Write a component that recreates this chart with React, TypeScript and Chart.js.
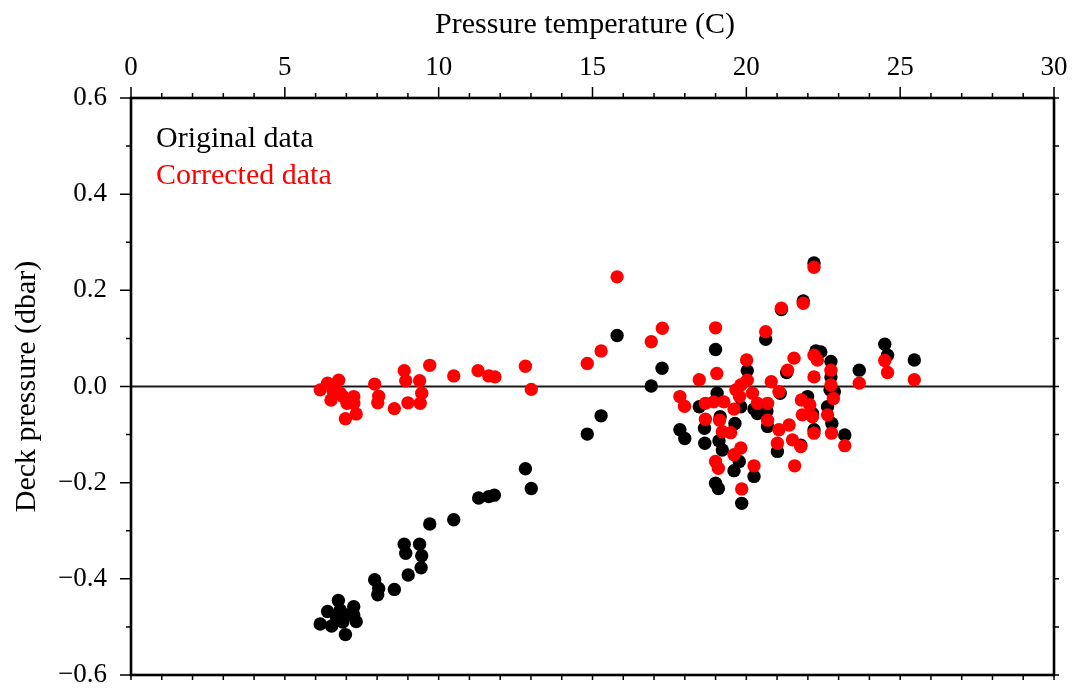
import React, { useEffect, useRef } from "react";
import { Chart, registerables } from "chart.js";

Chart.register(...registerables);

// Original data (black)
const originalX = [
  6.15, 6.39, 6.52, 6.69, 6.74, 6.8, 6.97, 7.02, 7.24, 7.24, 7.32, 6.88,
  7.92, 8.05, 8.02, 8.56, 8.88, 8.93, 9.01, 9.38, 9.45, 9.43, 9.71, 10.49,
  11.3, 11.63, 11.81, 12.82, 13.01, 14.83, 15.28, 15.8, 16.91, 17.26,
  17.84, 18.0, 18.47, 18.64, 18.65, 19.0, 19.0, 19.05, 19.09, 19.11, 19.15, 19.22,
  19.6, 19.63, 19.77, 19.82, 19.85, 20.03, 20.25, 20.25, 20.36, 20.63, 20.67, 20.69,
  21.01, 21.1, 21.14, 21.31, 21.77, 21.85, 21.99, 22.15, 22.2, 22.2, 22.26, 22.42,
  22.64, 22.72, 22.75, 22.75, 22.78, 22.86, 23.2, 23.67, 24.5, 24.59, 25.46,
];
const originalY = [
  -0.494, -0.468, -0.498, -0.482, -0.445, -0.465, -0.516, -0.475, -0.458, -0.475, -0.489, -0.49,
  -0.402, -0.42, -0.433, -0.422, -0.328, -0.347, -0.392, -0.328, -0.352, -0.377, -0.286, -0.277,
  -0.232, -0.229, -0.226, -0.171, -0.212, -0.099, -0.061, 0.106, 0.001, 0.038,
  -0.09, -0.108, -0.042, -0.087, -0.118, 0.077, -0.201, -0.014, -0.212, -0.113, -0.063, -0.132,
  -0.175, -0.077, -0.156, -0.042, -0.243, 0.033, -0.047, -0.187, -0.056, 0.098, -0.051, -0.083,
  -0.135, -0.014, 0.16, 0.029, -0.122, 0.178, -0.021, -0.056, 0.257, -0.09, 0.074, 0.072,
  -0.042, -0.007, 0.052, 0.02, -0.077, -0.011, -0.101, 0.034, 0.088, 0.065, 0.055,
];

// Corrected data (red)
const correctedX = [
  6.15, 6.39, 6.5, 6.58, 6.75, 6.8, 6.89, 6.97, 7.02, 7.24, 7.24, 7.32,
  7.92, 8.05, 8.02, 8.56, 8.88, 8.93, 9.0, 9.38, 9.45, 9.4, 9.71, 10.49,
  11.28, 11.63, 11.83, 12.82, 13.01, 14.83, 15.28, 15.8, 16.91, 17.27,
  17.84, 17.99, 18.47, 18.67, 18.67, 18.94, 19.0, 19.0, 19.04, 19.09, 19.13, 19.22,
  19.27, 19.49, 19.6, 19.6, 19.66, 19.78, 19.82, 19.82, 19.85, 20.01, 20.03, 20.2,
  20.25, 20.36, 20.63, 20.69, 20.69, 20.81, 21.01, 21.06, 21.06, 21.14, 21.34, 21.39,
  21.5, 21.55, 21.57, 21.77, 21.79, 21.82, 21.85, 22.06, 22.15, 22.2, 22.2, 22.2,
  22.2, 22.31, 22.64, 22.75, 22.75, 22.77, 22.83, 23.2, 23.67, 24.5, 24.59, 25.46,
];
const correctedY = [
  -0.007, 0.007, -0.028, -0.011, 0.013, -0.014, -0.021, -0.067, -0.035, -0.021, -0.035, -0.057,
  0.005, -0.02, -0.034, -0.046, 0.033, 0.012, -0.034, 0.012, -0.014, -0.035, 0.044, 0.022,
  0.033, 0.022, 0.02, 0.042, -0.006, 0.048, 0.074, 0.228, 0.093, 0.121,
  -0.021, -0.041, 0.014, -0.035, -0.068, -0.032, 0.122, -0.156, 0.027, -0.17, -0.07, -0.094,
  -0.032, -0.096, -0.047, -0.142, -0.007, -0.021, 0.003, -0.128, -0.213, 0.055, 0.013, -0.014,
  -0.165, -0.035, 0.114, -0.035, -0.07, 0.01, -0.118, -0.011, -0.09, 0.163, 0.034, -0.08,
  -0.111, 0.059, -0.165, -0.125, -0.028, -0.059, 0.173, -0.038, -0.063, 0.248, 0.065, 0.02,
  -0.097, 0.055, -0.059, 0.034, 0.003, -0.097, -0.025, -0.123, 0.007, 0.054, 0.029, 0.014,
];

const zeroLineX = [0, 30];
const zeroLineY = [0, 0];

const xMajorTicks = [0, 5, 10, 15, 20, 25, 30];
const yMajorTicks = [-0.6, -0.4, -0.2, 0.0, 0.2, 0.4, 0.6];

const xTitle = "Pressure temperature (C)";
const yTitle = "Deck pressure (dbar)";
const legendItems = ["Original data", "Corrected data"];
const legendColors = ["#000000", "#ff0000"];

const SERIF = "'Liberation Serif', 'Times New Roman', serif";

const fmt = (v: number) => {
  const s = Math.abs(v) < 1e-9 ? "0.0" : v.toFixed(1);
  return s.replace("-", "\u2212");
};

const framePlugin = {
  id: "framePlugin",
  afterDraw(chart: any) {
    const { ctx, chartArea } = chart;
    const xs = chart.scales.x;
    const ys = chart.scales.y;
    const { left, right, top, bottom } = chartArea;
    ctx.save();
    ctx.strokeStyle = "#000";
    ctx.lineCap = "butt";
    ctx.lineWidth = 1.5;
    const major = 11;
    const minor = 5;
    for (let i = 0; i <= 30; i++) {
      const px = xs.getPixelForValue(i);
      const len = i % 5 === 0 ? major : minor;
      ctx.beginPath();
      ctx.moveTo(px, top);
      ctx.lineTo(px, top - len);
      ctx.moveTo(px, bottom);
      ctx.lineTo(px, bottom + minor);
      ctx.stroke();
    }
    for (let j = -6; j <= 6; j++) {
      const py = ys.getPixelForValue(j / 10);
      const len = j % 2 === 0 ? major : minor;
      ctx.beginPath();
      ctx.moveTo(left, py);
      ctx.lineTo(left - len, py);
      ctx.moveTo(right, py);
      ctx.lineTo(right + minor, py);
      ctx.stroke();
    }
    ctx.lineWidth = 2.6;
    ctx.strokeRect(left, top, right - left, bottom - top);

    ctx.fillStyle = "#000";
    ctx.font = `30px ${SERIF}`;
    ctx.textAlign = "center";
    ctx.textBaseline = "alphabetic";
    ctx.fillText(xTitle, 585, 33);
    ctx.save();
    ctx.translate(35, (top + bottom) / 2);
    ctx.rotate(-Math.PI / 2);
    ctx.fillText(yTitle, 0, 0);
    ctx.restore();

    ctx.textAlign = "left";
    ctx.font = `30px ${SERIF}`;
    legendItems.forEach((t, i) => {
      ctx.fillStyle = legendColors[i];
      ctx.fillText(t, left + 25, 147 + i * 37);
    });
    ctx.restore();
  },
};

export default function App() {
  const ref = useRef<HTMLCanvasElement | null>(null);

  useEffect(() => {
    document.body.style.margin = "0";
    const canvas = ref.current;
    if (!canvas) return;
    const chart = new Chart(canvas, {
      type: "scatter",
      data: {
        datasets: [
          {
            label: legendItems[1],
            data: correctedX.map((x, i) => ({ x, y: correctedY[i] })),
            backgroundColor: "#ff0000",
            borderWidth: 0,
            pointRadius: 6.7,
            order: 1,
          },
          {
            label: legendItems[0],
            data: originalX.map((x, i) => ({ x, y: originalY[i] })),
            backgroundColor: "#000000",
            borderWidth: 0,
            pointRadius: 6.7,
            order: 2,
          },
          {
            label: "zero",
            type: "line",
            data: zeroLineX.map((x, i) => ({ x, y: zeroLineY[i] })),
            borderColor: "#1a1a1a",
            borderWidth: 2,
            pointRadius: 0,
            showLine: true,
            order: 3,
          } as any,
        ],
      },
      options: {
        animation: false,
        responsive: true,
        maintainAspectRatio: false,
        layout: { padding: { top: 0, left: 0, right: 19, bottom: 14 } },
        plugins: {
          legend: { display: false },
          tooltip: { enabled: false },
        },
        scales: {
          x: {
            type: "linear",
            position: "top",
            min: 0,
            max: 30,
            afterFit: (s: any) => {
              s.height = 98;
              s.paddingLeft = 0;
              s.paddingRight = 0;
              s.paddingTop = 0;
              s.paddingBottom = 0;
            },
            afterBuildTicks: (s: any) => {
              s.ticks = xMajorTicks.map((v) => ({ value: v }));
            },
            grid: { display: false, drawTicks: false },
            border: { display: false },
            ticks: {
              color: "#000",
              font: { family: SERIF, size: 27 },
              padding: 14,
              maxRotation: 0,
              callback: (v: any) => String(v),
            },
          },
          y: {
            type: "linear",
            position: "left",
            min: -0.6,
            max: 0.6,
            afterFit: (s: any) => {
              s.width = 131;
              s.paddingLeft = 0;
              s.paddingRight = 0;
              s.paddingTop = 0;
              s.paddingBottom = 0;
            },
            afterBuildTicks: (s: any) => {
              s.ticks = yMajorTicks.map((v) => ({ value: v }));
            },
            grid: { display: false, drawTicks: false },
            border: { display: false },
            ticks: {
              color: "#000",
              font: { family: SERIF, size: 27 },
              padding: 24,
              callback: (v: any) => fmt(Number(v)),
            },
          },
        },
      },
      plugins: [framePlugin],
    });
    return () => chart.destroy();
  }, []);

  return (
    <div style={{ position: "absolute", left: 0, top: 0, width: 1073, height: 689, background: "#fff" }}>
      <canvas ref={ref} />
    </div>
  );
}
